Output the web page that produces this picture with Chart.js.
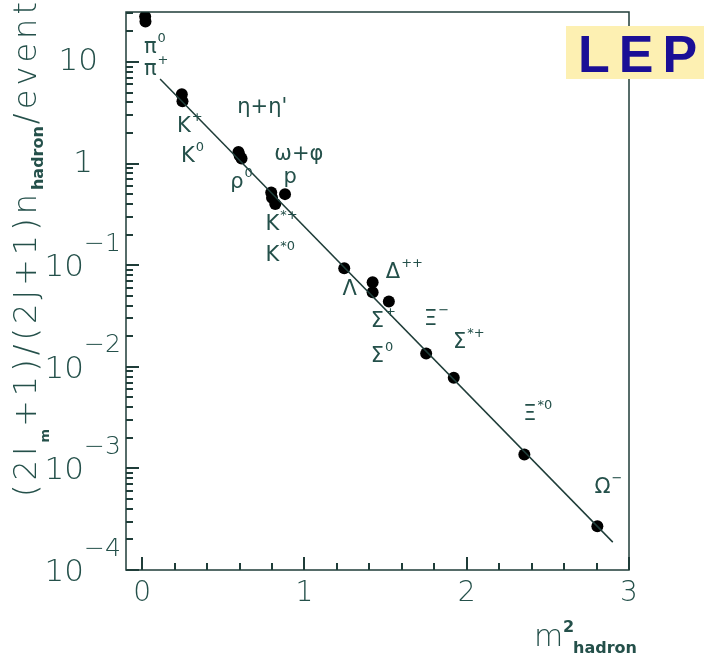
<!DOCTYPE html>
<html>
<head>
<meta charset="utf-8">
<script src="https://cdn.jsdelivr.net/npm/chart.js@4.4.1/dist/chart.umd.min.js"></script>
<style>
  html, body { margin: 0; padding: 0; background: #ffffff; }
  #wrap { width: 704px; height: 657px; }
</style>
</head>
<body>
<div id="wrap"><canvas id="chart" width="704" height="657"></canvas></div>
<script>
// measured hadron yields vs mass squared
const massSq = [0.018, 0.020, 0.244, 0.248, 0.593, 0.600, 0.612, 0.795, 0.800, 0.820, 0.880, 1.245, 1.420, 1.420, 1.520, 1.750, 1.920, 2.355, 2.805];
const yields = [28, 25, 4.8, 4.1, 1.30, 1.20, 1.12, 0.52, 0.46, 0.40, 0.50, 0.093, 0.068, 0.054, 0.044, 0.0135, 0.0078, 0.00137, 0.00027];

// straight fit line (in log space), end points
const fitX = [0.11, 2.90];
const fitY = [6.8, 0.000188];

// particle labels: text, superscript, anchor in data units
const labelText = ['π', 'π', 'K', 'K', 'η+η\'', 'ω+φ', 'ρ', 'p', 'K', 'K', 'Λ', 'Δ', 'Σ', 'Σ', 'Ξ', 'Σ', 'Ξ', 'Ω'];
const labelSup = ['0', '+', '+', '0', '', '', '0', '', '*+', '*0', '', '++', '+', '0', '−', '*+', '*0', '−'];
const labelX = [0.0105, 0.0105, 0.2146, 0.239, 0.586, 0.814, 0.542, 0.870, 0.759, 0.759, 1.235, 1.501, 1.408, 1.408, 1.736, 1.915, 2.348, 2.787];
const labelY = [12.3, 7.45, 2.04, 1.035, 3.15, 1.08, 0.574, 0.643, 0.221, 0.109, 0.0506, 0.0745, 0.0245, 0.0111, 0.0257, 0.0152, 0.00297, 0.000567];

const xTickLabels = ['0', '1', '2', '3'];
const xMinorStep = 0.2;
const yTickExp = [1, 0, -1, -2, -3, -4];

const ink = '#1f3d39';
const textInk = '#24504a';

const fitLine = fitX.map((x, i) => ({ x: x, y: fitY[i] }));
const points = massSq.map((x, i) => ({ x: x, y: yields[i] }));

const decorations = {
  id: 'decorations',
  afterDraw(chart) {
    const ctx = chart.ctx;
    const area = chart.chartArea;
    const xs = chart.scales.x;
    const ys = chart.scales.y;
    ctx.save();

    // frame
    ctx.strokeStyle = ink;
    ctx.lineWidth = 1.5;
    ctx.strokeRect(area.left, area.top, area.right - area.left, area.bottom - area.top);

    // x ticks, pointing inwards
    ctx.fillStyle = ink;
    for (let i = 0; i * xMinorStep <= xs.max + 1e-9; i++) {
      const v = i * xMinorStep;
      const len = i % 5 === 0 ? 13 : 7;
      const px = xs.getPixelForValue(v);
      ctx.fillRect(Math.round(px) - 1, area.bottom - len, 2, len);
    }

    // y ticks: decades plus 2..9 minors
    for (let e = -4; e <= 1; e++) {
      for (let m = 1; m <= 9; m++) {
        const v = m * Math.pow(10, e);
        if (v > ys.max) continue;
        const len = m === 1 ? 13 : 7;
        const py = ys.getPixelForValue(v);
        ctx.fillRect(area.left, Math.round(py) - 1, len, 2);
      }
    }

    // x tick labels
    ctx.fillStyle = textInk;
    ctx.font = '200 28px "DejaVu Sans"';
    ctx.textAlign = 'center';
    ctx.textBaseline = 'middle';
    xTickLabels.forEach(s => {
      ctx.fillText(s, xs.getPixelForValue(Number(s)), 594);
    });

    // y tick labels
    yTickExp.forEach(e => {
      const py = ys.getPixelForValue(Math.pow(10, e));
      ctx.textBaseline = 'middle';
      ctx.font = '200 31px "DejaVu Sans"';
      if (e === 1) {
        ctx.textAlign = 'right';
        ctx.fillText('10', 98, py);
      } else if (e === 0) {
        ctx.textAlign = 'right';
        ctx.fillText('1', 93, py);
      } else {
        ctx.textAlign = 'right';
        ctx.fillText('10', 84, py + 3);
        ctx.textAlign = 'left';
        ctx.font = '200 25px "DejaVu Sans"';
        ctx.fillText('−' + (-e), 84, py - 21);
      }
    });

    // y axis title, rotated
    ctx.save();
    ctx.translate(36, 497);
    ctx.rotate(-Math.PI / 2);
    ctx.textAlign = 'left';
    ctx.textBaseline = 'alphabetic';
    const mainFont = '200 32px "DejaVu Sans"';
    const parts = [
      ['(2I', mainFont, 0, true],
      ['m', 'bold 13px "DejaVu Sans"', 13, false],
      ['+1)/(2J+1)n', mainFont, 0, true],
      ['hadron', 'bold 16px "DejaVu Sans"', 7, false],
      ['/event', mainFont, 0, true]
    ];
    let natural = 0, nChars = 0;
    parts.forEach(p => {
      ctx.font = p[1];
      natural += ctx.measureText(p[0]).width;
      if (p[3]) nChars += p[0].length;
    });
    const gap = Math.max(0, (495 - natural) / nChars);
    let cx = 0;
    parts.forEach(p => {
      ctx.font = p[1];
      if (p[3]) {
        for (const ch of p[0]) {
          ctx.fillText(ch, cx, p[2]);
          cx += ctx.measureText(ch).width + gap;
        }
      } else {
        ctx.fillText(p[0], cx, p[2]);
        cx += ctx.measureText(p[0]).width + 2;
      }
    });
    ctx.restore();

    // x axis title
    ctx.textAlign = 'left';
    ctx.textBaseline = 'alphabetic';
    ctx.font = '200 30px "DejaVu Sans"';
    ctx.fillText('m', 534, 646);
    ctx.font = 'bold 16px "DejaVu Sans"';
    ctx.fillText('2', 563, 632);
    ctx.fillText('hadron', 573, 653);

    // particle labels
    ctx.fillStyle = textInk;
    labelText.forEach((s, i) => {
      const px = xs.getPixelForValue(labelX[i]);
      const py = ys.getPixelForValue(labelY[i]);
      ctx.font = '21px "DejaVu Sans"';
      ctx.fillText(s, px, py);
      if (labelSup[i]) {
        const w = ctx.measureText(s).width;
        ctx.font = '13px "DejaVu Sans"';
        ctx.fillText(labelSup[i], px + w + 1, py - 11);
      }
    });

    // LEP badge
    ctx.fillStyle = '#fdf0b2';
    ctx.fillRect(566, 26, 138, 53);
    ctx.fillStyle = '#1a0f96';
    ctx.font = 'bold 52px "Liberation Sans"';
    ctx.letterSpacing = '9px';
    ctx.textBaseline = 'alphabetic';
    ctx.fillText('LEP', 578, 72);
    ctx.letterSpacing = '0px';

    ctx.restore();
  }
};

new Chart(document.getElementById('chart'), {
  type: 'scatter',
  data: {
    datasets: [
      {
        label: 'fit',
        data: fitLine,
        showLine: true,
        borderColor: ink,
        borderWidth: 1.5,
        pointRadius: 0,
        pointHoverRadius: 0
      },
      {
        label: 'hadrons',
        data: points,
        pointRadius: 6,
        pointHoverRadius: 6,
        backgroundColor: '#000000',
        borderColor: '#000000',
        borderWidth: 0,
        clip: 0
      }
    ]
  },
  options: {
    responsive: false,
    animation: false,
    events: [],
    layout: { padding: { top: 12, right: 75, left: 0, bottom: 0 } },
    plugins: { legend: { display: false }, tooltip: { enabled: false } },
    scales: {
      x: {
        type: 'linear',
        min: -0.1,
        max: 3,
        ticks: { display: false },
        grid: { display: false },
        border: { display: false },
        afterFit: s => { s.height = 87; }
      },
      y: {
        type: 'logarithmic',
        min: 0.0001,
        max: 31,
        ticks: { display: false },
        grid: { display: false },
        border: { display: false },
        afterFit: s => { s.width = 126; }
      }
    }
  },
  plugins: [decorations]
});
</script>
</body>
</html>
